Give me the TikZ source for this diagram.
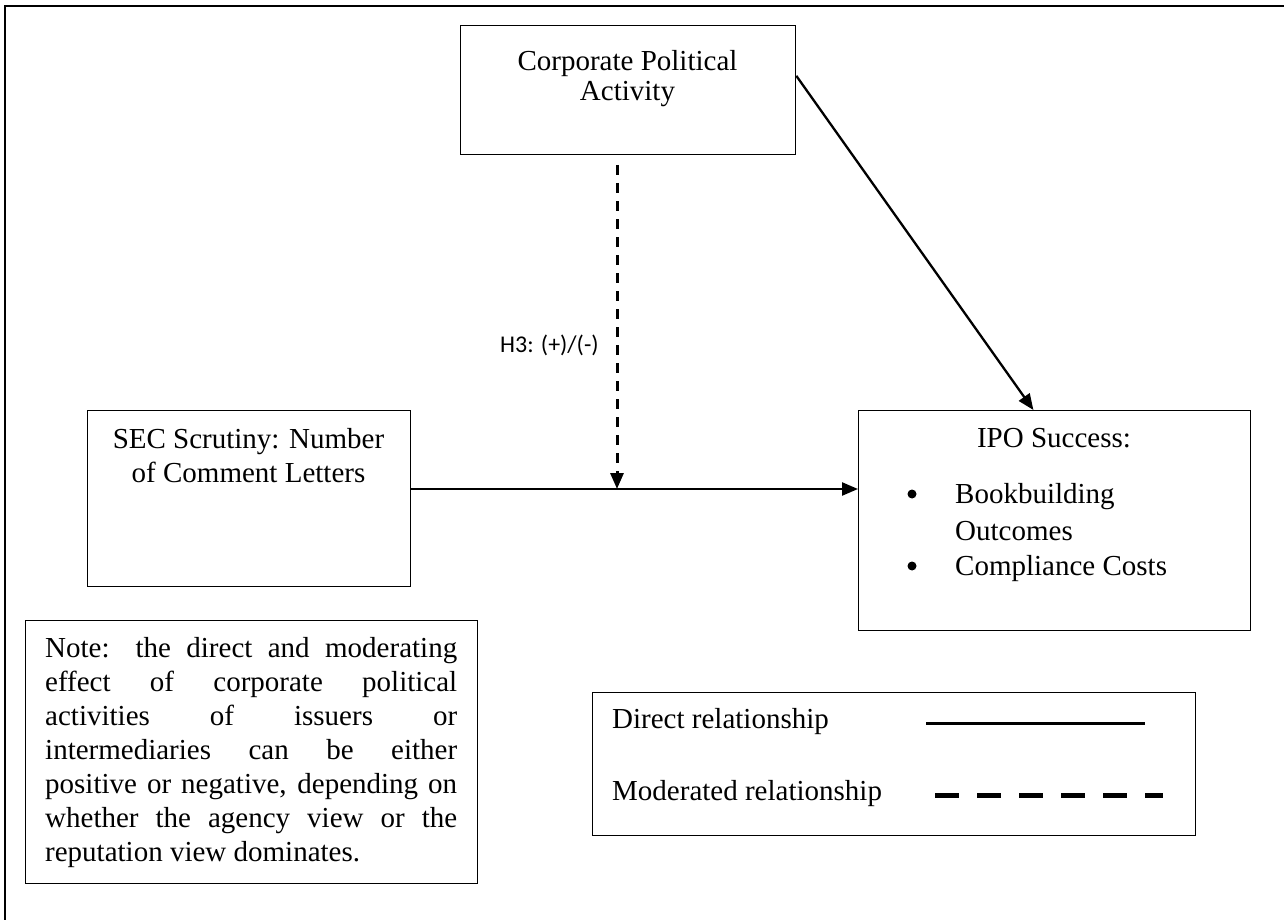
\documentclass[tikz,border=0pt]{standalone}
\usepackage{fontspec}
\setmainfont{Liberation Serif}
\newfontfamily\calibri{Carlito}
\usetikzlibrary{arrows.meta,calc}
\begin{document}
\begin{tikzpicture}[x=1pt,y=-1pt,
  box/.style={draw,line width=1.3pt,anchor=north west,inner sep=0pt},
  txt/.style={font=\fontsize{29}{34}\selectfont,inner sep=0pt,anchor=base},
  ntxt/.style={font=\fontsize{29}{34}\selectfont,inner sep=0pt,anchor=base west},
  bul/.style={circle,fill,inner sep=0pt,minimum size=9pt},
  conn/.style={line width=2.3pt,-{Triangle[length=16pt,width=13pt]}},
  dconn/.style={line width=3pt,dash pattern=on 10pt off 8pt,-{Triangle[length=16pt,width=13pt]}},
]
\useasboundingbox (0,0) rectangle (1284,920);
% outer frame (only top and left visible)
\draw[line width=2pt] (5,920) -- (5,6) -- (1284,6);

% boxes
\node[box,minimum width=335pt,minimum height=129pt] (cpa) at (460,25) {};
\node[box,minimum width=323pt,minimum height=176pt] (sec) at (87,410) {};
\node[box,minimum width=392pt,minimum height=220pt] (ipo) at (858,410) {};
\node[box,minimum width=452pt,minimum height=263pt] (note) at (25,620) {};
\node[box,minimum width=603pt,minimum height=143pt] (leg) at (592,692) {};

% texts
\node[txt] (cpa1) at (627.5,71) {Corporate Political};
\node[txt] (cpa2) at (627.5,101) {Activity};
\node[txt] (sec1) at (248.5,448) {SEC Scrutiny: Number};
\node[txt] (sec2) at (248.5,482) {of Comment Letters};
\node[txt] (ipo1) at (1054,447) {IPO Success:};
\node[bul] (b1) at (912,494) {};
\node[txt,anchor=base west] (ipo2) at (955,503) {Bookbuilding};
\node[txt,anchor=base west] (ipo3) at (955,540) {Outcomes};
\node[bul] (b2) at (912,566) {};
\node[txt,anchor=base west] (ipo4) at (955,575) {Compliance Costs};

\node[font=\calibri\fontsize{24}{28}\selectfont,inner sep=0pt,anchor=base west] (h3) at (500,352) {H3: (+)/(-)};

\node[ntxt] (n1) at (45,657) {\makebox[412pt][s]{Note: the direct and moderating}};
\node[ntxt] (n2) at (45,691) {\makebox[412pt][s]{effect of corporate political}};
\node[ntxt] (n3) at (45,725) {\makebox[412pt][s]{activities of issuers or}};
\node[ntxt] (n4) at (45,759) {\makebox[412pt][s]{intermediaries can be either}};
\node[ntxt] (n5) at (45,793) {\makebox[412pt][s]{positive or negative, depending on}};
\node[ntxt] (n6) at (45,827) {\makebox[412pt][s]{whether the agency view or the}};
\node[ntxt] (n7) at (45,861) {reputation view dominates.};

\node[txt,anchor=base west] (l1) at (612,728) {Direct relationship};
\node[txt,anchor=base west] (l2) at (612,800) {Moderated relationship};
\coordinate (ls1) at (926,723.5);
\coordinate (le1) at (1145,723.5);
\coordinate (ls2) at (935,795);
\coordinate (le2) at (1163,795);
\draw[line width=3pt] (ls1) -- (le1);
\draw[line width=5pt,dash pattern=on 24pt off 18pt] (ls2) -- (le2);

% connectors
\coordinate (m) at (617,489);
\coordinate (dstart) at (617,165);
\draw[conn] ($(cpa.north east)!0.39!(cpa.south east)$) -- ($(ipo.north west)!0.446!(ipo.north east)$);
\draw[conn] (sec.east |- m) -- (ipo.west |- m);
\draw[dconn] (dstart) -- (m);
\end{tikzpicture}
\end{document}
